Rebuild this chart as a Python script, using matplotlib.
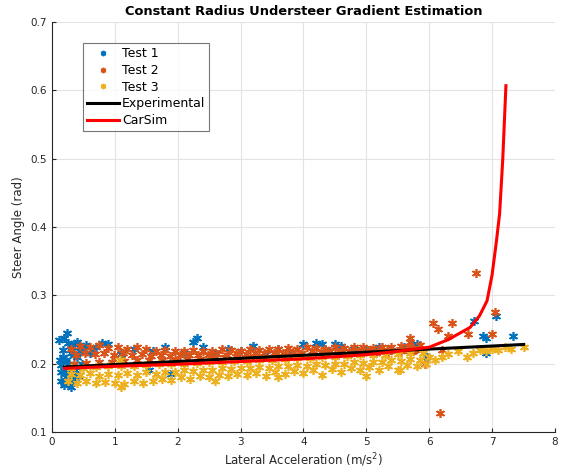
import numpy as np
import matplotlib
matplotlib.use("Agg")
import matplotlib.pyplot as plt

BLUE, ORANGE, YELLOW = "#0072BD", "#D95319", "#EDB120"
TXT = "#262626"

# Test 1: dense cluster at low speed, then a thin band along the top, a few outliers at the limit
t1_x = [0.12, 0.15, 0.18, 0.2, 0.22, 0.25, 0.28, 0.3, 0.33, 0.35, 0.38, 0.4, 0.42, 0.45, 0.48,
        0.15, 0.2, 0.25, 0.3, 0.35, 0.4, 0.18, 0.27, 0.32, 0.14, 0.22, 0.36, 0.44, 0.5, 0.55,
        0.6, 0.65, 0.7, 0.8, 0.9, 1.1, 1.3, 1.55, 1.6, 1.8, 1.9, 2.1, 2.3, 2.4, 2.6, 2.8, 3.0,
        3.2, 3.4, 3.6, 3.8, 4.0, 4.2, 4.4, 4.6, 4.8, 5.0, 5.2, 5.4, 5.6, 5.8, 5.96, 6.72, 6.85,
        6.9, 6.9, 7.07, 7.33, 4.3, 4.5, 2.25, 0.13, 0.24, 0.3]
t1_y = [0.235, 0.175, 0.22, 0.168, 0.205, 0.23, 0.185, 0.215, 0.178, 0.228, 0.195, 0.21, 0.182,
        0.225, 0.2, 0.198, 0.238, 0.19, 0.172, 0.212, 0.232, 0.21, 0.2, 0.225, 0.188, 0.18, 0.19,
        0.218, 0.222, 0.227, 0.215, 0.22, 0.225, 0.23, 0.228, 0.214, 0.222, 0.19, 0.218, 0.225,
        0.185, 0.216, 0.238, 0.225, 0.215, 0.222, 0.218, 0.226, 0.214, 0.221, 0.216, 0.228, 0.23,
        0.218, 0.226, 0.222, 0.22, 0.225, 0.22, 0.224, 0.228, 0.209, 0.263, 0.241, 0.237, 0.216,
        0.269, 0.241, 0.229, 0.228, 0.232, 0.205, 0.245, 0.165]

# Test 2: sits just above the fitted line
t2_x = [0.3, 0.45, 0.6, 0.75, 0.9, 1.05, 1.2, 1.35, 1.5, 1.65, 1.8, 1.95, 2.1, 2.25, 2.4, 2.55,
        2.7, 2.85, 3.0, 3.15, 3.3, 3.45, 3.6, 3.75, 3.9, 4.05, 4.2, 4.35, 4.5, 4.65, 4.8, 4.95,
        5.1, 5.25, 5.4, 5.55, 5.7, 5.85,
        0.38, 0.53, 0.68, 0.83, 0.98, 1.13, 1.28, 1.43, 1.58, 1.73, 1.88, 2.03, 2.18, 2.33, 2.48,
        2.63, 2.78, 2.93, 3.08, 3.23, 3.38, 3.53, 3.68, 3.83, 3.98, 4.13, 4.28, 4.43, 4.58, 4.73,
        4.88, 5.03, 5.18, 5.33, 5.48, 5.63, 5.78,
        0.35, 0.55, 0.75, 0.95, 1.15, 1.35, 1.55, 1.75, 1.95, 2.15, 2.35, 2.55, 2.75, 2.95, 3.15,
        3.35, 3.55, 3.75, 3.95, 4.15, 4.35, 4.55, 4.75, 4.95, 5.15, 5.35, 5.55, 5.75,
        5.7, 5.93, 6.06, 6.14, 6.3, 6.37, 6.61, 6.75, 7.0, 7.04, 6.17, 6.2, 5.69]
t2_y = [0.222, 0.226, 0.224, 0.227, 0.223, 0.225, 0.222, 0.224, 0.221, 0.219, 0.22, 0.218, 0.219,
        0.22, 0.218, 0.219, 0.221, 0.22, 0.219, 0.221, 0.22, 0.222, 0.221, 0.223, 0.222, 0.224,
        0.223, 0.222, 0.224, 0.223, 0.225, 0.224, 0.223, 0.225, 0.224, 0.226, 0.225, 0.227,
        0.213, 0.215, 0.214, 0.216, 0.213, 0.215, 0.212, 0.214, 0.211, 0.212, 0.211, 0.213, 0.212,
        0.213, 0.212, 0.214, 0.213, 0.215, 0.214, 0.216, 0.215, 0.216, 0.215, 0.217, 0.216, 0.218,
        0.217, 0.218, 0.217, 0.219, 0.218, 0.22, 0.219, 0.22, 0.219, 0.221, 0.22,
        0.2, 0.201, 0.202, 0.203, 0.204, 0.205, 0.205, 0.206, 0.206, 0.207, 0.207, 0.208, 0.209,
        0.209, 0.21, 0.21, 0.211, 0.212, 0.212, 0.213, 0.214, 0.214, 0.215, 0.216, 0.216, 0.217,
        0.218, 0.218,
        0.237, 0.2, 0.26, 0.251, 0.241, 0.26, 0.244, 0.333, 0.244, 0.275, 0.127, 0.22, 0.232]

# Test 3: sits just below the fitted line
t3_x = [0.25, 0.4, 0.55, 0.7, 0.85, 1.0, 1.15, 1.3, 1.45, 1.6, 1.75, 1.9, 2.05, 2.2, 2.35, 2.5,
        2.65, 2.8, 2.95, 3.1, 3.25, 3.4, 3.55, 3.7, 3.85, 4.0, 4.15, 4.3, 4.45, 4.6, 4.75, 4.9,
        5.05, 5.2, 5.35, 5.5, 5.65, 5.8, 5.95, 6.1,
        0.3, 0.45, 0.6, 0.75, 0.9, 1.05, 1.2, 1.35, 1.5, 1.65, 1.8, 1.95, 2.1, 2.25, 2.4, 2.55,
        2.7, 2.85, 3.0, 3.15, 3.3, 3.45, 3.6, 3.75, 3.9, 4.05, 4.2, 4.35, 4.5, 4.65, 4.8, 4.95,
        5.1, 5.25, 5.4, 5.55, 5.7, 5.85, 6.0,
        0.3, 0.5, 0.7, 0.9, 1.1, 1.3, 1.5, 1.7, 1.9, 2.1, 2.3, 2.5, 2.7, 2.9, 3.1, 3.3, 3.5, 3.7,
        3.9, 4.1, 4.3, 4.5, 4.7, 4.9, 5.1, 5.3, 5.5, 5.7, 5.9,
        6.2, 6.3, 6.45, 6.6, 6.7, 6.8, 6.9, 7.0, 7.1, 7.2, 7.3, 7.5, 5.53, 1.1, 2.6, 3.6, 5.0, 1.08]
t3_y = [0.175, 0.172, 0.174, 0.171, 0.173, 0.172, 0.17, 0.174, 0.172, 0.175, 0.178, 0.176, 0.18,
        0.178, 0.182, 0.18, 0.184, 0.182, 0.185, 0.183, 0.186, 0.182, 0.188, 0.185, 0.189, 0.186,
        0.19, 0.184, 0.192, 0.188, 0.193, 0.19, 0.195, 0.19, 0.196, 0.19, 0.198, 0.196, 0.2, 0.205,
        0.185, 0.183, 0.186, 0.182, 0.185, 0.183, 0.186, 0.184, 0.187, 0.185, 0.188, 0.187, 0.19,
        0.189, 0.191, 0.19, 0.193, 0.192, 0.194, 0.193, 0.195, 0.194, 0.197, 0.196, 0.198, 0.197,
        0.199, 0.198, 0.2, 0.199, 0.202, 0.201, 0.203, 0.202, 0.205, 0.204, 0.207, 0.206, 0.209,
        0.193, 0.194, 0.195, 0.196, 0.196, 0.197, 0.198, 0.199, 0.2, 0.2, 0.201, 0.202, 0.203,
        0.204, 0.204, 0.205, 0.206, 0.207, 0.208, 0.208, 0.209, 0.21, 0.211, 0.212, 0.212, 0.213,
        0.214, 0.215, 0.216,
        0.21, 0.214, 0.218, 0.21, 0.216, 0.22, 0.218, 0.222, 0.22, 0.224, 0.222, 0.225, 0.19,
        0.165, 0.175, 0.18, 0.182, 0.205]

# linear fit through the tests
exp_x = [0.2, 7.5]
exp_y = [0.195, 0.228]

# CarSim steady-state prediction
cs_x = [0.2, 1.0, 2.0, 3.0, 4.0, 5.0, 5.5, 6.0, 6.3, 6.65, 6.8, 6.92, 7.0, 7.07, 7.12, 7.17, 7.22]
cs_y = [0.193, 0.196, 0.199, 0.203, 0.207, 0.213, 0.218, 0.224, 0.235, 0.253, 0.27, 0.292,
        0.33, 0.38, 0.42, 0.5, 0.607]

fig = plt.figure(figsize=(5.64, 4.72), dpi=100)
ax = fig.add_axes([0.092, 0.085, 0.892, 0.868])

star = (6, 2, 0)
ax.plot(t1_x, t1_y, ls="none", marker=star, ms=6.5, mew=1.2, color=BLUE, label="Test 1")
ax.plot(t2_x, t2_y, ls="none", marker=star, ms=6.5, mew=1.2, color=ORANGE, label="Test 2")
ax.plot(t3_x, t3_y, ls="none", marker=star, ms=6.5, mew=1.2, color=YELLOW, label="Test 3")
ax.plot(exp_x, exp_y, color="black", lw=2.2, label="Experimental")
ax.plot(cs_x, cs_y, color="#FF0000", lw=2.2, label="CarSim")

ax.set_xlim(0, 8)
ax.set_ylim(0.1, 0.7)
ax.set_xticks(np.arange(0, 9, 1))
ax.set_yticks(np.arange(0.1, 0.71, 0.1))
ax.set_yticklabels([f"{v:.1f}" for v in np.arange(0.1, 0.71, 0.1)])
ax.grid(True, color="#e3e3e3", lw=0.8)
ax.set_axisbelow(True)
for s in ["top", "right"]:
    ax.spines[s].set_visible(False)
for s in ["left", "bottom"]:
    ax.spines[s].set_color(TXT)
ax.tick_params(direction="in", length=3, labelsize=7.5, colors=TXT)

ax.set_xlabel("Lateral Acceleration (m/s$^2$)", fontsize=8.5, color=TXT, labelpad=3)
ax.set_ylabel("Steer Angle (rad)", fontsize=8.5, color=TXT, labelpad=4)
ax.set_title("Constant Radius Understeer Gradient Estimation", fontsize=9.4, fontweight="bold",
             color="black", pad=5)

leg = ax.legend(loc="upper left", bbox_to_anchor=(0.062, 0.948), fontsize=9, frameon=True,
                fancybox=False, edgecolor="#555555", handlelength=2.6, handletextpad=0.2,
                borderpad=0.3, labelspacing=0.3, markerscale=0.6, borderaxespad=0)
leg.get_frame().set_linewidth(0.8)

fig.savefig("out.png", dpi=100)
